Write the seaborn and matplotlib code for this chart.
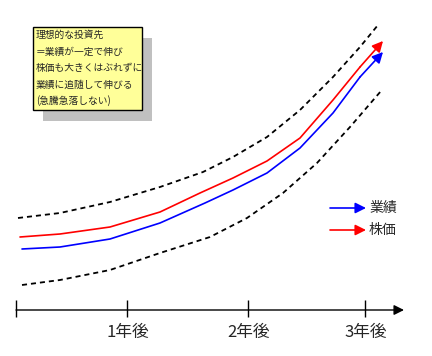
import matplotlib
matplotlib.use("Agg")
import matplotlib.pyplot as plt
import seaborn as sns
from matplotlib.patches import Rectangle

# schematic chart: x in pixels from the left, y = height above the bottom edge
upper_x = [18, 60, 110, 160, 203, 233, 267, 300, 333, 360, 378]
upper_y = [138, 143, 154, 169, 184, 199, 219, 246, 279, 309, 331]
price_x = [20, 60, 110, 160, 200, 233, 267, 300, 333, 360, 383]
price_y = [119, 122, 129, 144, 163, 178, 195, 218, 256, 289, 315]
perf_x = [22, 60, 110, 160, 205, 233, 267, 300, 333, 360, 383]
perf_y = [107, 109, 117, 133, 153, 166, 183, 208, 243, 279, 304]
lower_x = [22, 60, 110, 160, 210, 247, 283, 317, 350, 381]
lower_y = [71, 76, 86, 103, 119, 138, 163, 193, 229, 265]

tick_x = [16, 127, 248, 365]
tick_labels = ["", "1年後", "2年後", "3年後"]
legend_labels = ["業績", "株価"]
note_lines = ["理想的な投資先", "＝業績が一定で伸び", "株価も大きくはぶれずに",
              "業績に追随して伸びる", "(急騰急落しない)"]

sns.set_style("white")
plt.rcParams["font.family"] = ["Noto Sans CJK JP", "DejaVu Sans"]

fig = plt.figure(figsize=(4.32, 3.56), dpi=100)
ax = fig.add_axes([0, 0, 1, 1])
ax.set_xlim(0, 432)
ax.set_ylim(0, 356)
ax.axis("off")

for xs, ys in [(upper_x, upper_y), (lower_x, lower_y)]:
    sns.lineplot(x=xs, y=ys, ax=ax, color="black", lw=1.3, sort=False,
                 estimator=None, linestyle=(0, (2.8, 2.2)))

for xs, ys, col in [(price_x, price_y, "#ff0000"), (perf_x, perf_y, "#0000ff")]:
    sns.lineplot(x=xs[:-1], y=ys[:-1], ax=ax, color=col, lw=1.2, sort=False,
                 estimator=None, solid_joinstyle="round")
    ax.annotate("", xy=(xs[-1], ys[-1]), xytext=(xs[-2], ys[-2]),
                arrowprops=dict(arrowstyle="-|>", color=col, lw=1.2,
                                mutation_scale=16, shrinkA=0, shrinkB=0))

# time axis
ax.annotate("", xy=(404, 46), xytext=(16, 46),
            arrowprops=dict(arrowstyle="-|>", color="black", lw=1.0,
                            mutation_scale=15, shrinkA=0, shrinkB=0))
ax.vlines(tick_x, 39, 56, color="black", lw=1.0)
for x, lab in zip(tick_x, tick_labels):
    ax.text(x + 1, 23, lab, ha="center", va="center", fontsize=12)

# legend
for yy, col, lab in [(148, "#0000ff", legend_labels[0]), (126, "#ff0000", legend_labels[1])]:
    ax.annotate("", xy=(366, yy), xytext=(330, yy),
                arrowprops=dict(arrowstyle="-|>", color=col, lw=1.2,
                                mutation_scale=16, shrinkA=0, shrinkB=0))
    ax.text(369, yy, lab, ha="left", va="center", fontsize=10)

# note box with shadow
ax.add_patch(Rectangle((43, 235), 109, 83, facecolor="#c0c0c0", edgecolor="none"))
ax.add_patch(Rectangle((33, 246), 109, 83, facecolor="#ffff99", edgecolor="black", lw=1.0))
for i, line in enumerate(note_lines):
    ax.text(36, 321 - i * 16.5, line, ha="left", va="center", fontsize=7.0)

fig.savefig("out.png", dpi=100)
